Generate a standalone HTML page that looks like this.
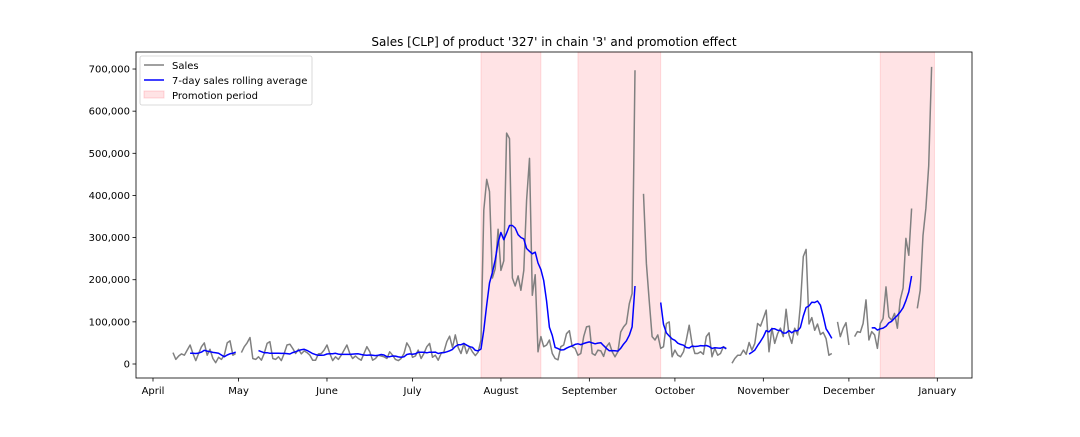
<!DOCTYPE html>
<html><head><meta charset="utf-8"><style>
body{margin:0;background:#fff;}
svg text{font-family:"DejaVu Sans","Liberation Sans",sans-serif;fill:#000;}
</style></head><body>
<svg id="chart" width="1080" height="432" xmlns="http://www.w3.org/2000/svg"></svg>
<script>
// day offsets from April 1
const monthLabels = ["April","May","June","July","August","September","October","November","December","January"];
const monthDays = [0,30,61,91,122,153,183,214,244,275];
const yTicks = [0,100000,200000,300000,400000,500000,600000,700000];
const promotions = [[115,136],[149,178],[255,274]];
// daily sales in thousands CLP, index = day offset from April 1, null = missing
const salesK = [
null,null,null,null,null,null,null,
27,11,19,24,21,33,45,25,8,25,41,50,21,35,13,3,16,11,21,50,55,21,25,
null,
27,41,50,63,13,11,17,9,25,49,53,13,11,17,8,25,45,47,37,25,35,24,31,27,21,9,9,24,25,33,45,25,8,17,11,21,33,45,25,13,19,13,9,25,41,29,9,13,21,19,17,13,29,21,11,8,13,25,50,39,16,19,33,13,25,41,49,16,21,9,25,29,53,66,39,69,39,25,49,25,41,29,20,28,57,
365,438,409,204,226,320,222,245,548,535,204,185,209,175,222,389,488,163,212,
29,65,41,45,57,25,13,10,41,45,72,79,41,37,21,25,65,88,90,25,21,33,31,18,41,50,29,17,29,76,88,96,143,167,697,
null,null,
404,238,151,65,57,69,37,41,96,100,17,33,21,17,29,57,92,49,25,25,29,23,65,74,17,37,21,25,41,37,
null,
2,13,21,21,33,23,51,33,49,96,90,108,128,29,85,49,72,85,65,130,69,49,85,69,140,255,272,95,110,80,95,70,75,60,21,25,
null,
100,65,85,98,45,
null,
65,77,75,96,152,57,77,69,37,96,108,183,112,104,120,85,152,180,298,258,369,
null,
132,175,305,370,470,705
];

const svg = document.getElementById('chart');
const NS = 'http://www.w3.org/2000/svg';
const L=136,R=972,T=52,B=378;
const X = d => 153 + d*2.852;
const Y = v => 364 - v/100000*42.14;
function mk(tag, attrs, parent){const e=document.createElementNS(NS,tag);for(const k in attrs)e.setAttribute(k,attrs[k]);(parent||svg).appendChild(e);return e;}

promotions.forEach(p=>{
  const r=mk('rect',{x:X(p[0]),y:T,width:X(p[1])-X(p[0]),height:B-T,fill:'rgba(255,0,20,0.11)',stroke:'rgba(255,0,20,0.12)'});
  
  
});

const sales = salesK.map(v=>v===null?null:v*1000);
const rolling = sales.map((v,i)=>{
  if(i<6) return null;
  let s=0;for(let j=i-6;j<=i;j++){if(sales[j]===null)return null;s+=sales[j];}
  return s/7;
});
function pathFrom(arr){
  let d='',pen=false;
  arr.forEach((v,i)=>{ if(v===null){pen=false;return;} d+=(pen?'L':'M')+X(i).toFixed(1)+','+Y(v).toFixed(1); pen=true;});
  return d;
}
const sp=mk('path',{d:pathFrom(sales),fill:'none',stroke:'#808080','stroke-width':1.5,'stroke-linejoin':'round'});


const rp=mk('path',{d:pathFrom(rolling),fill:'none',stroke:'#0000ff','stroke-width':1.5,'stroke-linejoin':'round'});



const fr=mk('rect',{x:L,y:T,width:R-L,height:B-T,fill:'none',stroke:'#000','stroke-width':0.8});



yTicks.forEach(v=>{
  mk('line',{x1:L-3.5,x2:L,y1:Y(v),y2:Y(v),stroke:'#000','stroke-width':0.8});
  const t=mk('text',{x:L-6,y:Y(v)+3.5,'text-anchor':'end','font-size':10});
  t.textContent=v.toLocaleString('en-US');
  
  
});
monthDays.forEach((d,i)=>{
  mk('line',{x1:X(d),x2:X(d),y1:B,y2:B+3.5,stroke:'#000','stroke-width':0.8});
  const t=mk('text',{x:X(d),y:B+16,'text-anchor':'middle','font-size':10});
  t.textContent=monthLabels[i];
  
  
});

const title=mk('text',{x:(L+R)/2,y:46,'text-anchor':'middle','font-size':12});
title.textContent="Sales [CLP] of product '327' in chain '3' and promotion effect";



const lg=mk('g',{});


mk('rect',{x:140,y:56,width:172,height:49,rx:2,fill:'#fff',stroke:'#d0d0d0','stroke-width':0.8},lg);
mk('line',{x1:144,x2:164,y1:65,y2:65,stroke:'#808080','stroke-width':1.5},lg);
mk('line',{x1:144,x2:164,y1:80,y2:80,stroke:'#0000ff','stroke-width':1.5},lg);
mk('rect',{x:144,y:91,width:20,height:7,fill:'rgba(255,0,20,0.11)',stroke:'rgba(255,0,20,0.15)'},lg);
[['Sales',69,'legend-entry-sales'],['7-day sales rolling average',84,'legend-entry-rolling'],['Promotion period',99,'legend-entry-promotion']].forEach(e=>{
  const t=mk('text',{x:172,y:e[1],'font-size':10},lg);
  t.textContent=e[0];
  
  
});
</script>
</body></html>
